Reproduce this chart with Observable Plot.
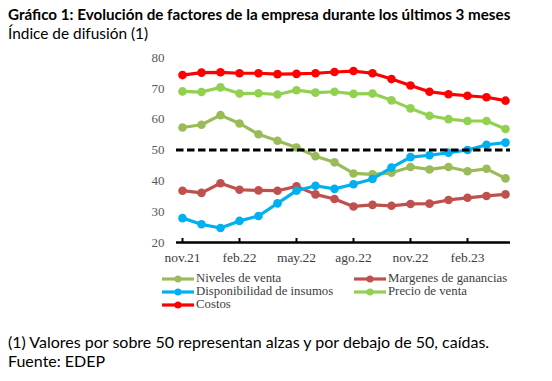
<!DOCTYPE html>
<html>
<head>
<meta charset="utf-8">
<script src="https://cdn.jsdelivr.net/npm/d3@7"></script>
<script src="https://cdn.jsdelivr.net/npm/@observablehq/plot@0.6"></script>
<style>
  body { margin: 0; background: #fff; }
  #wrap { position: relative; width: 552px; height: 381px; overflow: hidden; font-family: Lato, "Open Sans", sans-serif; color: #000; }
  #title { position: absolute; left: 8px; top: 5px; font-weight: bold; font-size: 15.2px; white-space: nowrap; line-height: 18px; }
  #subtitle { position: absolute; left: 8px; top: 24px; font-size: 15.4px; white-space: nowrap; line-height: 18px; }
  #chart { position: absolute; left: 0; top: 45px; }
  #legend { position: absolute; left: 0; top: 271px; width: 552px; height: 45px; font-family: "Liberation Serif", serif; font-size: 12.8px; color: #404040; }
  .li { position: absolute; display: flex; align-items: center; white-space: nowrap; height: 13px; line-height: 13px; }
  .li svg { margin-right: 2px; }
  #note { position: absolute; left: 8px; top: 333px; font-size: 16px; white-space: nowrap; line-height: 18px; }
  #source { position: absolute; left: 8px; top: 352px; font-size: 16px; white-space: nowrap; line-height: 18px; }
</style>
</head>
<body>
<div id="wrap">
  <div id="title">Gráfico 1: Evolución de factores de la empresa durante los últimos 3 meses</div>
  <div id="subtitle">Índice de difusión (1)</div>
  <div id="chart"></div>
  <div id="legend"></div>
  <div id="note">(1) Valores por sobre 50 representan alzas y por debajo de 50, caídas.</div>
  <div id="source">Fuente: EDEP</div>
</div>
<script>
const months = ["nov.21","dic.21","ene.22","feb.22","mar.22","abr.22","may.22","jun.22","jul.22","ago.22","sep.22","oct.22","nov.22","dic.22","ene.23","feb.23","mar.23","abr.23"];
const tickMonths = ["nov.21","feb.22","may.22","ago.22","nov.22","feb.23"];
const yTicks = [20, 30, 40, 50, 60, 70, 80];

const nivelesVenta = [57.3, 58.2, 61.3, 58.6, 55.1, 53.0, 50.8, 48.0, 46.0, 42.4, 42.1, 42.6, 44.5, 43.7, 44.5, 43.1, 43.9, 40.8];
const margenes = [36.8, 36.1, 39.2, 37.1, 36.9, 36.8, 38.2, 35.6, 34.1, 31.7, 32.2, 31.9, 32.5, 32.6, 33.8, 34.5, 35.1, 35.6];
const disponibilidad = [27.9, 25.9, 24.7, 27.0, 28.6, 32.7, 36.8, 38.4, 37.4, 38.9, 40.6, 44.3, 47.7, 48.3, 49.1, 50.0, 51.7, 52.4];
const precioVenta = [69.0, 68.8, 70.3, 68.3, 68.4, 68.0, 69.4, 68.6, 68.9, 68.2, 68.3, 66.1, 63.5, 61.1, 60.0, 59.4, 59.4, 56.8];
const costos = [74.3, 75.1, 75.2, 74.9, 74.9, 74.6, 74.7, 74.9, 75.3, 75.6, 74.9, 73.0, 70.9, 68.9, 68.1, 67.6, 67.1, 66.0];
const threshold = [50];

const seriesNames = ["Niveles de venta", "Margenes de ganancias", "Disponibilidad de insumos", "Precio de venta", "Costos"];
const seriesValues = [nivelesVenta, margenes, disponibilidad, precioVenta, costos];
const seriesColors = ["#9BBB59", "#C0504D", "#00B0F0", "#92D050", "#FF0000"];

const series = seriesNames.map((name, i) => ({
  name, color: seriesColors[i],
  data: months.map((m, j) => ({ month: m, value: seriesValues[i][j] }))
}));

const marks = [
  Plot.ruleX(tickMonths, { x: d => d, y1: 20, y2: 21.3, stroke: "#000", strokeWidth: 2 }),
  Plot.ruleY([20], { stroke: "#000", strokeWidth: 2.5 })
];
for (const s of series) {
  marks.push(Plot.line(s.data, { x: "month", y: "value", stroke: s.color, strokeWidth: 3.2, curve: "linear" }));
  marks.push(Plot.dot(s.data, { x: "month", y: "value", fill: s.color, r: 4.3, stroke: "none" }));
}
marks.push(Plot.ruleY(threshold, { stroke: "#000", strokeWidth: 3, strokeDasharray: "7.5,3.5" }));
marks.push(Plot.axisY({ ticks: yTicks, tickSize: 0, tickPadding: 12, fontSize: 13, fontFamily: "Liberation Serif, serif", color: "#595959", label: null }));
marks.push(Plot.axisX({ ticks: tickMonths, tickSize: 0, tickPadding: 9.5, fontSize: 13.5, fontFamily: "Liberation Serif, serif", color: "#404040", label: null }));

const chart = Plot.plot({
  width: 552,
  height: 225,
  marginLeft: 176,
  marginRight: 42,
  marginTop: 12,
  marginBottom: 28,
  style: { background: "transparent", overflow: "visible" },
  x: { type: "point", domain: months, padding: 0 },
  y: { domain: [20, 80] },
  marks
});
document.getElementById("chart").appendChild(chart);

const legendPos = [
  { left: 162, top: 1 }, { left: 354, top: 1 },
  { left: 162, top: 14 }, { left: 354, top: 14 },
  { left: 162, top: 27 }
];
const legend = document.getElementById("legend");
series.forEach((s, i) => {
  const el = document.createElement("div");
  el.className = "li";
  el.style.left = legendPos[i].left + "px";
  el.style.top = legendPos[i].top + "px";
  el.innerHTML = `<svg width="32" height="10"><line x1="0" y1="5" x2="32" y2="5" stroke="${s.color}" stroke-width="3.2"/><circle cx="16" cy="5" r="3.5" fill="${s.color}"/></svg><span>${s.name}</span>`;
  legend.appendChild(el);
});
</script>
</body>
</html>
